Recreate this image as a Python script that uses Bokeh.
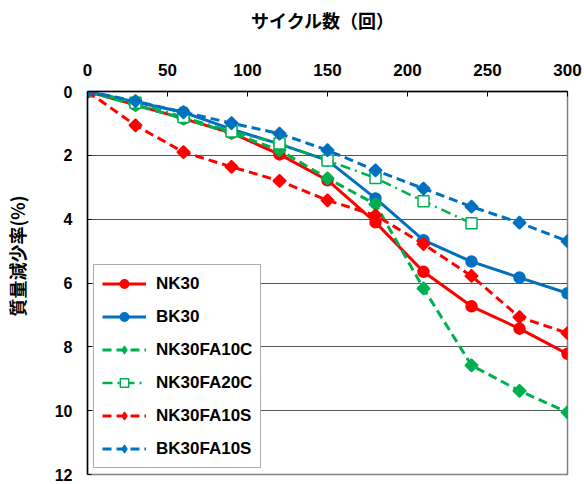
import numpy as np
from bokeh.plotting import figure
from bokeh.models import Range1d, FixedTicker, Legend, LegendItem
from bokeh.embed import file_html
from bokeh.resources import INLINE

# ---- data ----
cycles = [0, 30, 60, 90, 120, 150, 180, 210, 240, 270, 300]
cycles_20c = [0, 30, 60, 90, 120, 150, 180, 210, 240]
nk30 = [0, 0.42, 0.85, 1.3, 1.97, 2.78, 4.1, 5.65, 6.73, 7.43, 8.22]
bk30 = [0, 0.33, 0.65, 1.18, 1.65, 2.16, 3.35, 4.66, 5.33, 5.83, 6.32]
nk30fa10c = [0, 0.43, 0.85, 1.3, 1.84, 2.72, 3.53, 6.17, 8.58, 9.38, 10.05]
nk30fa20c = [0, 0.35, 0.8, 1.25, 1.63, 2.16, 2.71, 3.44, 4.13]
nk30fa10s = [0, 1.06, 1.9, 2.36, 2.8, 3.41, 3.88, 4.78, 5.78, 7.07, 7.57]
bk30fa10s = [0, 0.3, 0.65, 0.99, 1.32, 1.84, 2.47, 3.04, 3.61, 4.11, 4.69]
x_ticks = [0, 50, 100, 150, 200, 250, 300]
y_ticks = [0, 2, 4, 6, 8, 10, 12]
x_title = "サイクル数（回）"
y_title = "質量減少率(%)"

RED = "#FF0000"
BLUE = "#0070C0"
GREEN = "#00B050"
NUM_FONT = "Liberation Sans"
JP_FONT = "Noto Sans CJK JP"

p = figure(width=584, height=484, output_backend="svg", toolbar_location=None,
           x_range=Range1d(0, 300), y_range=Range1d(12, 0),
           x_axis_location="above",
           min_border_left=86, min_border_top=91, min_border_right=17, min_border_bottom=10)
p.outline_line_color = "#808080"
p.outline_line_width = 1.5

# axes
p.xaxis.ticker = FixedTicker(ticks=x_ticks)
p.yaxis.ticker = FixedTicker(ticks=y_ticks)
for ax in (p.xaxis, p.yaxis):
    ax.axis_line_color = "black"
    ax.axis_line_width = 1.5
    ax.major_tick_line_color = "black"
    ax.major_tick_out = 0
    ax.minor_tick_line_color = None
    ax.major_label_text_font = NUM_FONT
    ax.major_label_text_font_style = "bold"
    ax.major_label_text_color = "black"
    ax.axis_label_text_font = JP_FONT
    ax.axis_label_text_font_style = "bold"
    ax.axis_label_text_font_size = "18px"
    ax.axis_label_text_color = "black"
p.xaxis.major_label_text_font_size = "17px"
p.yaxis.major_label_text_font_size = "16px"
p.xaxis.major_tick_in = 5
p.yaxis.major_tick_in = 4
p.xaxis.major_label_standoff = 16
p.yaxis.major_label_standoff = 15

# axis titles (ideographic spaces shift the centred text as in the original)
p.xaxis.axis_label = x_title + "\u3000"
p.xaxis.axis_label_standoff = 28
p.yaxis.axis_label = "\u3000\u3000\u3000" + y_title
p.yaxis.axis_label_standoff = 22

p.xgrid.grid_line_color = None
p.ygrid.grid_line_color = "#555555"
p.ygrid.grid_line_width = 1.2

items = []

def series(xs, ys, color, label, dash, marker, size, angle=0.0, fill=None, lw=3,
           legend_marker=None):
    r1 = p.line(xs, ys, line_color=color, line_width=lw, line_dash=dash)
    rl = None
    if legend_marker:
        # drawn beneath the rotated squares; supplies the legend glyph
        rl = p.scatter(xs, ys, marker=legend_marker, size=size + 2,
                       fill_color=color, line_color=color, line_width=1)
    r2 = p.scatter(xs, ys, marker=marker, size=size, angle=angle,
                   fill_color=fill if fill else color, line_color=color,
                   line_width=1.5)
    items.append(LegendItem(label=label, renderers=[r1, rl if rl is not None else r2]))

series(cycles, nk30, RED, "NK30", "solid", "circle", 11)
series(cycles, bk30, BLUE, "BK30", "solid", "circle", 11)
series(cycles, nk30fa10c, GREEN, "NK30FA10C", "9 5", "square", 9, angle=np.pi / 4,
       legend_marker="diamond")
series(cycles_20c, nk30fa20c, GREEN, "NK30FA20C", "10 5 2 5", "square", 11, fill="white", lw=2.5)
series(cycles, nk30fa10s, RED, "NK30FA10S", "9 5", "square", 9, angle=np.pi / 4,
       legend_marker="diamond")
series(cycles, bk30fa10s, BLUE, "BK30FA10S", "9 5", "square", 9, angle=np.pi / 4,
       legend_marker="diamond")

legend = Legend(items=items, location="bottom_left", margin=6, padding=8,
                spacing=12, label_height=21, glyph_height=21, glyph_width=44,
                label_standoff=10,
                label_text_font=NUM_FONT, label_text_font_style="bold",
                label_text_font_size="17px", label_text_color="black",
                border_line_color="#595959", border_line_width=1.2,
                background_fill_color="white", background_fill_alpha=1.0)
p.add_layout(legend, "center")

open("out.html", "w").write(file_html(p, INLINE))
